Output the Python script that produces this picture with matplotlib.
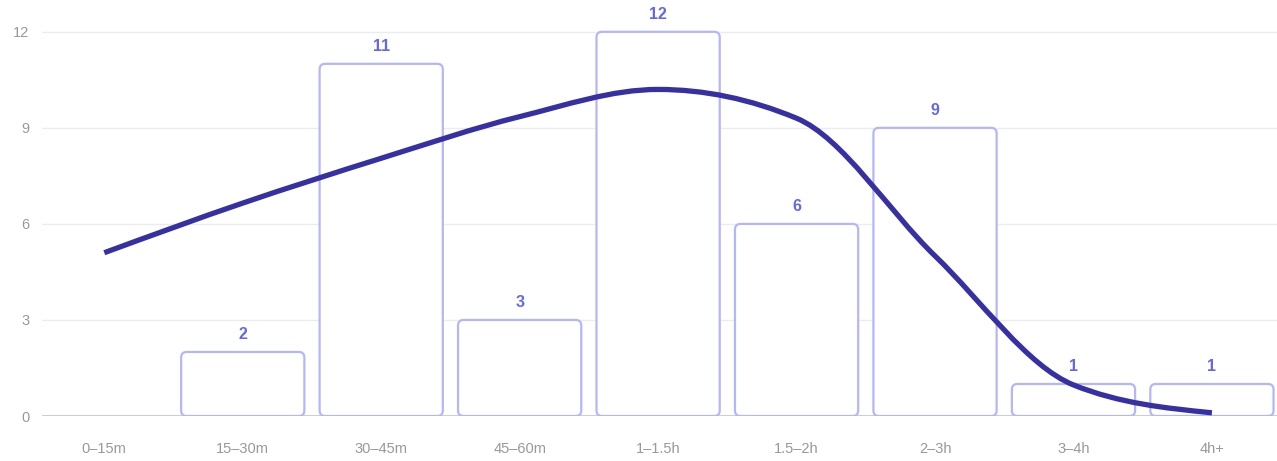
import matplotlib
matplotlib.use("Agg")
import matplotlib.pyplot as plt
from matplotlib.patches import FancyBboxPatch, PathPatch
from matplotlib.path import Path
import numpy as np

categories = ["0–15m", "15–30m", "30–45m", "45–60m", "1–1.5h", "1.5–2h", "2–3h", "3–4h", "4h+"]
counts = [0, 2, 11, 3, 12, 6, 9, 1, 1]
trend = [5.1, 6.65, 8.05, 9.35, 10.2, 9.3, 5.0, 0.97, 0.1]
yticks = [0, 3, 6, 9, 12]

BAR_EDGE = "#b4b6fb"
LABEL_COL = "#6366f1"
LINE_COL = "#3730a3"
TICK_COL = "#999999"

plt.rcParams["font.family"] = ["Liberation Sans", "DejaVu Sans"]

W, H = 1277, 461
fig = plt.figure(figsize=(W / 100, H / 100), dpi=100)
ax = fig.add_axes([42 / W, (H - 416) / H, (W - 42) / W, (416 - 19) / H])
xlim = (-0.45, 8.47)
ylim = (0, 12.4)
ax.set_xlim(*xlim)
ax.set_ylim(*ylim)

# pixel sizes of one data unit, for the rounded corners
px_x = (W - 42) / (xlim[1] - xlim[0])
px_y = (416 - 19) / (ylim[1] - ylim[0])

for y in yticks[1:]:
    ax.axhline(y, color="#ececf0", lw=1, zorder=0)
ax.axhline(0, color="#c6c6da", lw=2, zorder=1)

bw = 0.89
for i, c in enumerate(counts):
    if c <= 0:
        continue
    r = 5.5 / px_x
    box = FancyBboxPatch((i - bw / 2, 0), bw, c,
                         boxstyle=f"round,pad=0,rounding_size={r}",
                         mutation_aspect=px_x / px_y,
                         fc="white", ec=BAR_EDGE, lw=1.6, zorder=2)
    ax.add_patch(box)
    ax.text(i, c + 0.3, str(c), ha="center", va="bottom", color=LABEL_COL,
            fontsize=11.5, fontweight="bold", zorder=4, clip_on=False)


# smooth monotone curve through the trend points (bezier path)
def slopes(x, y):
    n = len(x)
    t = np.zeros(n)
    for k in range(1, n - 1):
        h0, h1 = x[k] - x[k - 1], x[k + 1] - x[k]
        s0, s1 = (y[k] - y[k - 1]) / h0, (y[k + 1] - y[k]) / h1
        p = (s0 * h1 + s1 * h0) / (h0 + h1)
        t[k] = (np.sign(s0) + np.sign(s1)) * min(abs(s0), abs(s1), 0.5 * abs(p))
    t[0] = (3 * (y[1] - y[0]) / (x[1] - x[0]) - t[1]) / 2
    t[-1] = (3 * (y[-1] - y[-2]) / (x[-1] - x[-2]) - t[-2]) / 2
    return t


xs = np.arange(len(trend), dtype=float)
ys = np.array(trend)
ts = slopes(xs, ys)
verts = [(xs[0], ys[0])]
codes = [Path.MOVETO]
for k in range(len(xs) - 1):
    dx = (xs[k + 1] - xs[k]) / 3
    verts += [(xs[k] + dx, ys[k] + dx * ts[k]),
              (xs[k + 1] - dx, ys[k + 1] - dx * ts[k + 1]),
              (xs[k + 1], ys[k + 1])]
    codes += [Path.CURVE4] * 3
ax.add_patch(PathPatch(Path(verts, codes), fc="none", ec=LINE_COL, lw=3.8,
                       capstyle="butt", joinstyle="round", zorder=3))

ax.set_xticks(range(len(categories)))
ax.set_xticklabels(categories)
ax.set_yticks(yticks)
ax.tick_params(length=0, colors=TICK_COL, labelsize=10.5)
ax.tick_params(axis="x", pad=19)
ax.tick_params(axis="y", pad=9)
for s in ax.spines.values():
    s.set_visible(False)

fig.savefig("out.png", dpi=100)
